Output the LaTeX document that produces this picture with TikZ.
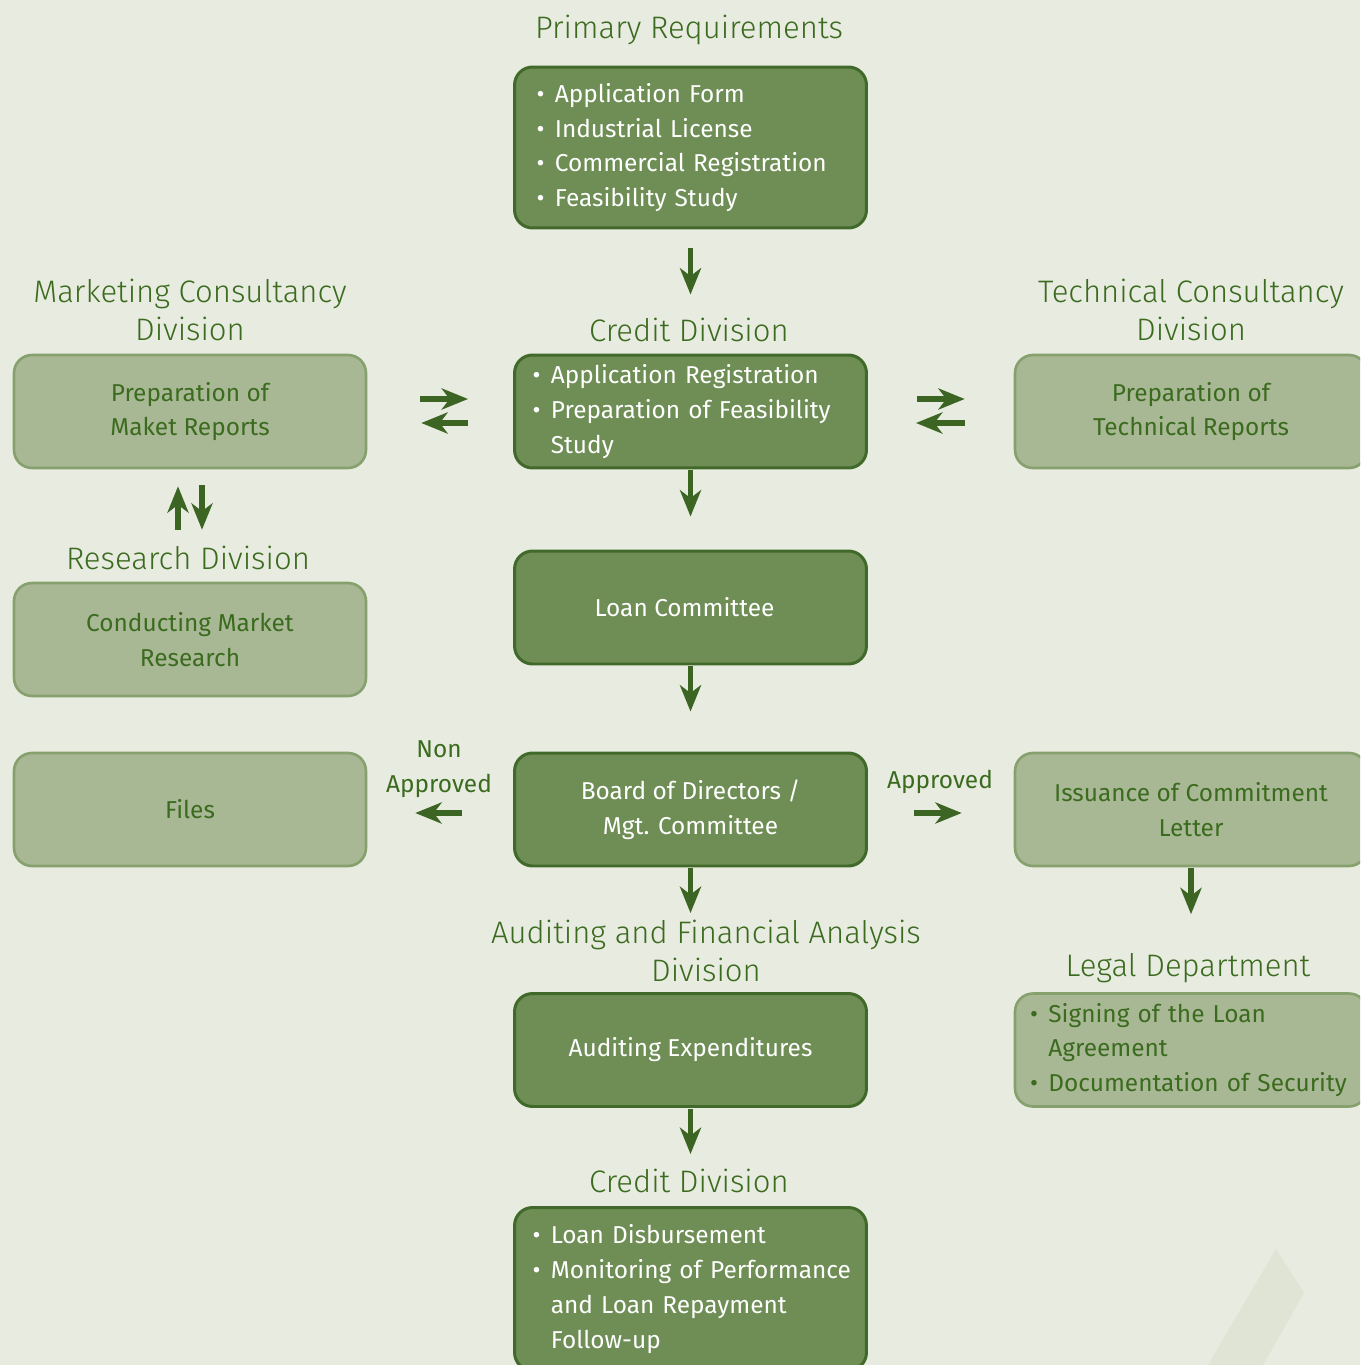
\documentclass[tikz,border=0pt]{standalone}
\usepackage{fontspec}
\usetikzlibrary{arrows.meta,positioning}
\newfontfamily\boxfont{Fira Sans}
\IfFontExistsTF{Fira Sans Light}{\newfontfamily\titlefont{Fira Sans Light}}{\newfontfamily\titlefont{Fira Sans}}
\definecolor{bgcol}{HTML}{E8EBE0}
\definecolor{shadecol}{HTML}{DFE4D5}
\definecolor{darkfill}{HTML}{6F8E55}
\definecolor{darkline}{HTML}{41692A}
\definecolor{lightfill}{HTML}{A9B894}
\definecolor{lightline}{HTML}{86A06E}
\definecolor{titlegreen}{HTML}{3B6B1F}
\definecolor{arrowgreen}{HTML}{3C6524}
\newcommand\bul[1]{\mbox{\makebox[0.75em][l]{\textbullet}#1}}
\newcommand\cont[1]{\mbox{\hspace*{0.75em}#1}}
\tikzset{darkbox/.style={rectangle,rounded corners=0.36cm,draw=darkline,fill=darkfill,line width=1.7pt,minimum width=7.04cm,minimum height=2.26cm,text=white,font=\boxfont\fontsize{13.9}{19.8}\selectfont,align=center},
         lightbox/.style={rectangle,rounded corners=0.36cm,draw=lightline,fill=lightfill,line width=1.5pt,minimum width=7.04cm,minimum height=2.26cm,text=titlegreen,font=\boxfont\fontsize{13.9}{19.8}\selectfont,align=center},
         listbox/.style={text width=6.32cm,align=left,inner xsep=0.36cm},
         boxtitle/.style={font=\titlefont\fontsize{17.7}{21.5}\selectfont,text=titlegreen,align=center,inner sep=0pt},
         edge label/.style={font=\boxfont\fontsize{13.9}{19.8}\selectfont,text=titlegreen,align=center,inner sep=0pt},
         flow/.style={draw=arrowgreen,line width=3.3pt,-{Stealth[length=15pt,width=12pt,inset=4.5pt]}}
}
\begin{document}
\begin{tikzpicture}[x=0.02cm,y=-0.02cm]
\useasboundingbox (0,0) rectangle (1360,1365);
\fill[bgcol] (0,0) rectangle (1360,1365);
\clip (0,0) rectangle (1360,1365);
\fill[shadecol] (1276,1249) -- (1304,1293) -- (1263,1365) -- (1208,1365) -- cycle;
% \draw[help lines] (0,0) grid[step=1cm] (1360,1365);

% middle column
\node[boxtitle] (prt) at (689,30) {Primary Requirements};
\node[darkbox,listbox,inner xsep=0.44cm,text width=6.16cm,minimum height=3.22cm] (pr) at (690.5,147.5)
    {\bul{Application Form}\\ \bul{Industrial License}\\ \bul{Commercial Registration}\\ \bul{Feasibility Study}};
\node[boxtitle] (crt) at (689,330) {Credit Division};
\node[darkbox,listbox] (credit) at (690.5,411.5)
    {\bul{Application Registration}\\ \bul{Preparation of Feasibility}\\ \cont{Study}};
\node[darkbox] (loan) at (690.5,607.5) {\hspace*{-0.24cm}Loan Committee};
\node[darkbox] (board) at (690.5,809.5) {Board of Directors /\\Mgt. Committee};
\node[boxtitle] (audt) at (706,951) {Auditing and Financial Analysis\\Division};
\node[darkbox] (audit) at (690.5,1050) {Auditing Expenditures};
\node[boxtitle] (crt2) at (689,1181) {Credit Division};
\node[darkbox,listbox,minimum height=3.26cm] (final) at (690.5,1289)
    {\bul{Loan Disbursement}\\ \bul{Monitoring of Performance}\\ \cont{and Loan Repayment}\\ \cont{Follow-up}};

% left column
\node[boxtitle] (mktt) at (190,310) {Marketing Consultancy\\Division};
\node[lightbox] (mkt) at (190,411.5) {Preparation of\\Maket Reports};
\node[boxtitle] (rest) at (188,558) {Research Division};
\node[lightbox] (research) at (190,639.5) {Conducting Market\\Research};
\node[lightbox] (files) at (190,809.5) {Files};

% right column
\node[boxtitle] (techt) at (1191,310) {Technical Consultancy\\Division};
\node[lightbox] (tech) at (1191,411.5) {Preparation of\\Technical Reports};
\node[lightbox] (issue) at (1191,809.5) {Issuance of Commitment\\Letter};
\node[boxtitle] (legt) at (1188,968) {Legal Department};
\node[lightbox,listbox,inner xsep=0.3cm,text width=6.44cm] (legal) at (1191,1050)
    {\bul{Signing of the Loan}\\ \cont{Agreement}\\ \bul{Documentation of Security}};

\node[edge label] (nonapp) at (439,769) {Non\\Approved};
\node[edge label] (app) at (940,782) {Approved};

% arrows
\draw[flow,shorten <=0.38cm,shorten >=1.18cm] (pr.south) -- (credit.north);
\draw[flow,shorten <=0.02cm,shorten >=0.66cm] (credit.south) -- (loan.north);
\draw[flow,shorten <=0.02cm,shorten >=0.8cm] (loan.south) -- (board.north);
\draw[flow,shorten <=0.02cm,shorten >=1.58cm] (board.south) -- (audit.north);
\draw[flow,shorten <=0.02cm,shorten >=1.04cm] (audit.south) -- (final.north);
\draw[flow,shorten <=0.02cm,shorten >=1.56cm] (issue.south) -- (legal.north);

\draw[flow,shorten <=1.06cm,shorten >=0.9cm] ([yshift=0.25cm]mkt.east) -- ([yshift=0.25cm]credit.west);
\draw[flow,shorten <=0.9cm,shorten >=1.08cm] ([yshift=-0.23cm]credit.west) -- ([yshift=-0.23cm]mkt.east);
\draw[flow,shorten <=0.98cm,shorten >=0.98cm] ([yshift=0.25cm]credit.east) -- ([yshift=0.25cm]tech.west);
\draw[flow,shorten <=0.98cm,shorten >=0.96cm] ([yshift=-0.23cm]tech.west) -- ([yshift=-0.23cm]credit.east);

\draw[flow,shorten <=1.04cm,shorten >=0.34cm] ([xshift=-0.24cm]research.north) -- ([xshift=-0.24cm]mkt.south);
\draw[flow,shorten <=0.32cm,shorten >=1.04cm] ([xshift=0.24cm]mkt.south) -- ([xshift=0.24cm]research.north);

\draw[flow,shorten <=1.02cm,shorten >=0.96cm] ([yshift=-0.07cm]board.west) -- ([yshift=-0.07cm]files.east);
\draw[flow,shorten <=0.92cm,shorten >=1.04cm] ([yshift=-0.07cm]board.east) -- ([yshift=-0.07cm]issue.west);
\end{tikzpicture}
\end{document}
